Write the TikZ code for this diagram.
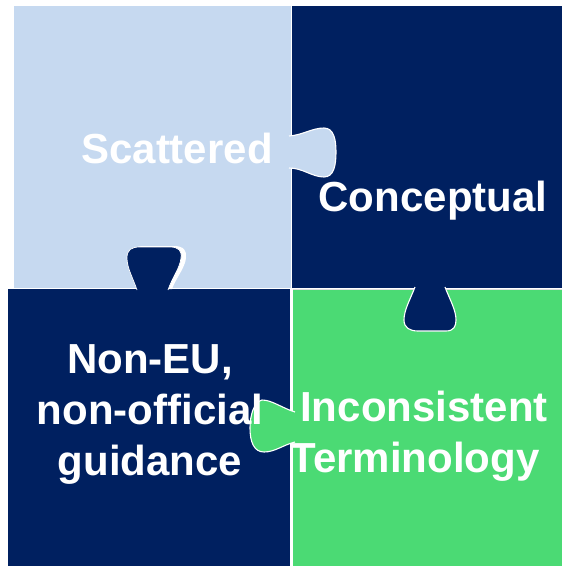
\documentclass[tikz,border=0pt]{standalone}
\usepackage{fontspec}
\setmainfont{Liberation Sans}
\definecolor{paleblue}{RGB}{198,217,240}
\definecolor{navy}{RGB}{0,32,96}
\definecolor{leaf}{RGB}{75,218,116}
\begin{document}
\begin{tikzpicture}[x=1pt,y=-1pt,
  tab/.style={draw=white,line width=1.1pt},
  word/.style={text=white,font=\fontsize{42}{51}\selectfont\bfseries,anchor=base,inner sep=0pt}]
\useasboundingbox (0,0) rectangle (562,566);
\fill[white] (0,0) rectangle (562,566);
% the four square pieces
\fill[paleblue] (14,6) rectangle (291,288);
\fill[navy] (292,6) rectangle (562,288);
\fill[navy] (8,289) rectangle (290,566);
\fill[leaf] (293,290) rectangle (562,566);
\draw[white!75!gray,line width=0.8pt] (293,289) -- (562,289);
% tabs: filled as closed shapes, outlined only along their free edge
% pale piece reaching right
\filldraw[tab,fill=paleblue] (289,136) .. controls (303,135) and (312,128) .. (324,128)
  .. controls (334,128) and (336,140) .. (336,152)
  .. controls (336,165) and (334,177) .. (324,177)
  .. controls (312,177) and (303,168) .. (289,168);
% lower-left piece reaching up, with a light rim
\fill[white] (140,289) .. controls (136,278) and (131,268) .. (131,258)
  .. controls (131,250) and (135,246) .. (144,246) -- (174,246)
  .. controls (184,246) and (187,251) .. (186,258)
  .. controls (185,268) and (176,278) .. (172,289);
\filldraw[tab,line width=0.7pt,fill=navy] (137,290) .. controls (133,278) and (127,268) .. (127,258)
  .. controls (127,250) and (131,247) .. (140,247) -- (170,247)
  .. controls (179,247) and (182,251) .. (181,258)
  .. controls (180,268) and (172,278) .. (168,290);
% upper-right piece reaching down
\filldraw[tab,fill=navy] (415,287) .. controls (410,300) and (404,310) .. (404,320)
  .. controls (404,328) and (410,331) .. (418,331) -- (446,331)
  .. controls (454,331) and (456,326) .. (456,320)
  .. controls (456,310) and (450,300) .. (445,287);
% green piece reaching left
\filldraw[tab,fill=leaf] (295,412) .. controls (282,408) and (272,400) .. (262,400)
  .. controls (254,402) and (250,415) .. (250,428)
  .. controls (250,442) and (254,452) .. (264,452)
  .. controls (275,452) and (283,445) .. (295,442);
% labels
\node[word] (scattered) at (177,163) {Scattered};
\node[word] (conceptual) at (433,211) {Conceptual};
\node[word] (noneu) at (150,373) {Non-EU,};
\node[word] (nonofficial) at (150,424) {non-official};
\node[word] (guidance) at (150,475) {guidance};
\node[word] (inconsistent) at (424,421) {Inconsistent};
\node[word] (terminology) at (415,472) {Terminology};
\end{tikzpicture}
\end{document}
